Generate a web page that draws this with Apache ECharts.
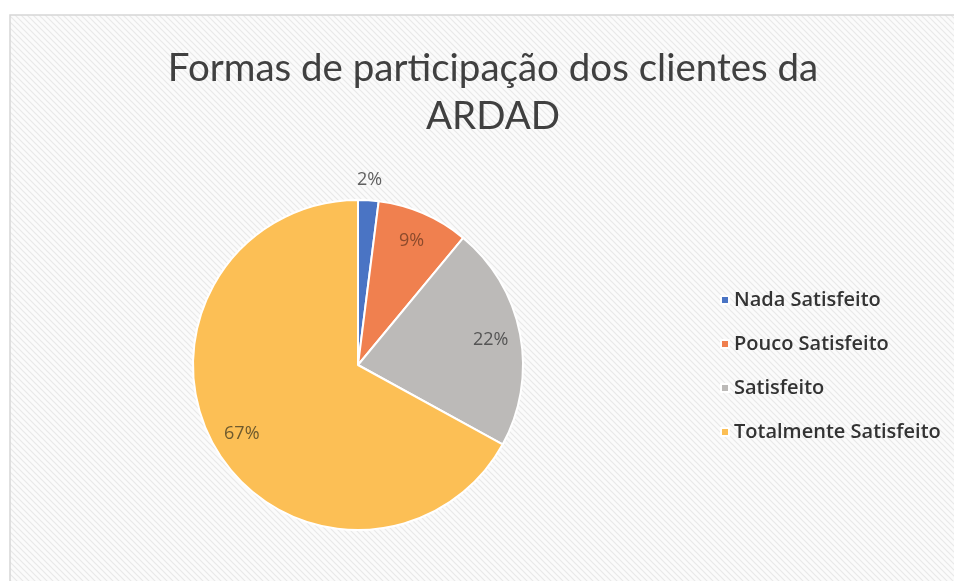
<!DOCTYPE html>
<html>
<head>
<meta charset="utf-8">
<script src="https://cdn.jsdelivr.net/npm/echarts@6/dist/echarts.min.js"></script>
<style>
  html, body { margin: 0; padding: 0; background: #fff; overflow: hidden; }
  #chart { width: 954px; height: 581px; }
</style>
</head>
<body>
<div id="chart"></div>
<script>
// data
const categories = ["Nada Satisfeito", "Pouco Satisfeito", "Satisfeito", "Totalmente Satisfeito"];
const values = [2, 9, 22, 67];
const colors = ["#4a74c4", "#f0804f", "#bcbab8", "#fcbf55"];
const labelColors = ["#606060", "#8c4a2c", "#555555", "#6e5a2e"];

// faint diagonal hatch like the Excel chart area
const hatch = document.createElement("canvas");
hatch.width = 6;
hatch.height = 6;
const hctx = hatch.getContext("2d");
hctx.fillStyle = "#fbfbfb";
hctx.fillRect(0, 0, 6, 6);
hctx.strokeStyle = "#e9e9e9";
hctx.lineWidth = 1.2;
hctx.beginPath();
hctx.moveTo(0, 0); hctx.lineTo(6, 6);
hctx.moveTo(-3, 3); hctx.lineTo(3, 9);
hctx.moveTo(3, -3); hctx.lineTo(9, 3);
hctx.stroke();

const chart = echarts.init(document.getElementById("chart"));

const pieData = categories.map((name, i) => ({
  name,
  value: values[i],
  itemStyle: { color: colors[i] },
}));

// label-only overlays so the percent labels sit where Excel put them
const innerLabels = categories.map((name, i) => ({
  name,
  value: values[i],
  label: { show: i > 0, color: labelColors[i] },
}));
const outerLabels = categories.map((name, i) => ({
  name,
  value: values[i],
  label: { show: i === 0, color: labelColors[i] },
}));

const labelSeries = (radius, data) => ({
  type: "pie",
  center: [358, 365],
  radius,
  startAngle: 90,
  clockwise: true,
  silent: true,
  tooltip: { show: false },
  itemStyle: { color: "rgba(0,0,0,0)", borderWidth: 0 },
  emphasis: { disabled: true },
  labelLine: { show: false },
  label: {
    position: "inside",
    formatter: "{d}%",
    fontFamily: "Open Sans",
    fontSize: 18,
  },
  data,
});

chart.setOption({
  backgroundColor: "#fff",
  animation: false,
  graphic: [
    {
      type: "rect",
      z: -10,
      shape: { x: 10, y: 15, width: 1000, height: 700 },
      style: { fill: { image: hatch, repeat: "repeat" } },
    },
    {
      type: "polyline",
      z: -9,
      shape: { points: [[10, 600], [10, 15], [1000, 15]] },
      style: { fill: null, stroke: "#d6d6d6", lineWidth: 1.5 },
    },
  ],
  title: {
    text: "Formas de participação dos clientes da\nARDAD",
    left: 488,
    top: 40,
    textAlign: "center",
    textStyle: {
      fontFamily: "Lato",
      fontWeight: "normal",
      fontSize: 38.5,
      lineHeight: 48,
      color: "#404040",
    },
  },
  legend: {
    orient: "vertical",
    left: 715,
    top: 285,
    icon: "rect",
    itemWidth: 8,
    itemHeight: 8,
    itemGap: 24,
    data: categories,
    textStyle: { fontFamily: "Open Sans", fontWeight: 600, fontSize: 20, color: "#333" },
  },
  series: [
    {
      type: "pie",
      center: [358, 365],
      radius: 165,
      startAngle: 90,
      clockwise: true,
      itemStyle: { borderColor: "#fff", borderWidth: 2 },
      label: { show: false },
      labelLine: { show: false },
      data: pieData,
    },
    labelSeries([102, 162], innerLabels),
    labelSeries([168, 196], outerLabels),
  ],
});
</script>
</body>
</html>
